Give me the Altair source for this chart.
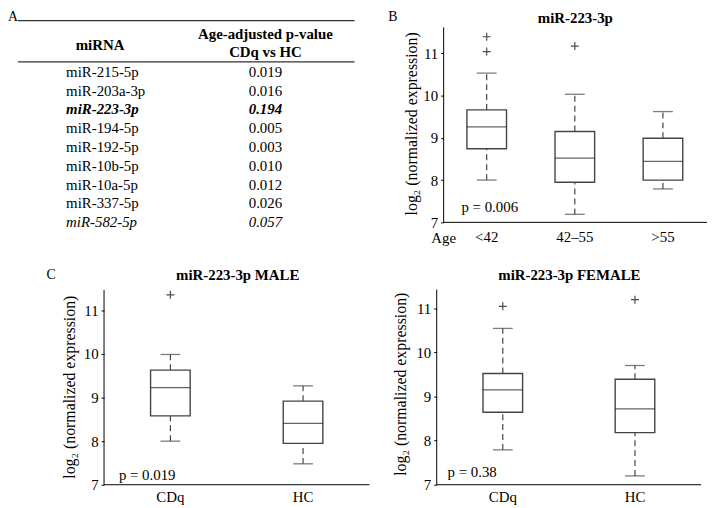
import altair as alt
import pandas as pd

FONT = "Liberation Serif"

# ---------------- Panel A: table ----------------
mirnas = ["miR-215-5p", "miR-203a-3p", "miR-223-3p", "miR-194-5p", "miR-192-5p",
          "miR-10b-5p", "miR-10a-5p", "miR-337-5p", "miR-582-5p"]
pvalues = [0.019, 0.016, 0.194, 0.005, 0.003, 0.010, 0.012, 0.026, 0.057]
bold_italic_rows = ["miR-223-3p"]
italic_rows = ["miR-582-5p"]

# ---------------- Panel B: by age ----------------
age_groups = ["<42", "42–55", ">55"]
b_lower = [8.00, 7.19, 7.79]
b_q1 = [8.74, 7.95, 8.00]
b_median = [9.26, 8.52, 8.44]
b_q3 = [9.66, 9.15, 8.99]
b_upper = [10.53, 10.03, 9.62]
b_out_group = ["<42", "<42", "42–55"]
b_out_value = [11.39, 11.04, 11.17]

# ---------------- Panel C: by sex ----------------
sex_groups = ["CDq", "HC"]
male_lower = [8.00, 7.48]
male_q1 = [8.58, 7.95]
male_median = [9.23, 8.41]
male_q3 = [9.63, 8.92]
male_upper = [9.99, 9.27]
male_out_group = ["CDq"]
male_out_value = [11.36]

female_lower = [7.79, 7.20]
female_q1 = [8.64, 8.18]
female_median = [9.15, 8.72]
female_q3 = [9.52, 9.39]
female_upper = [10.54, 9.70]
female_out_group = ["CDq", "HC"]
female_out_value = [11.04, 11.19]

PLUS = "M-1,0L1,0M0,-1L0,1"
one = pd.DataFrame({"k": [0]})


# ---------------- table chart ----------------
TH = 214
ROW_PX = 19.0
ROW0 = 62.0
tscale = alt.Scale(domain=[-ROW0 / ROW_PX, (TH - ROW0) / ROW_PX], reverse=True,
                   nice=False, zero=False)

tdf = pd.DataFrame({"mirna": mirnas, "p": pvalues, "row": list(range(len(mirnas)))})
tdf["style"] = ["bi" if m in bold_italic_rows else ("i" if m in italic_rows else "n")
                for m in mirnas]

COL_NAME_X = 58.7
COL_P_X = 260
COL_HEAD_X = 93


def rows_layer(style, weight, fstyle):
    base = alt.Chart(tdf).transform_filter(alt.datum.style == style)
    left = base.mark_text(align="left", baseline="middle", font=FONT, fontSize=15,
                          fontWeight=weight, fontStyle=fstyle, color="black").encode(
        x=alt.value(COL_NAME_X),
        y=alt.Y("row:Q", scale=tscale, axis=None),
        text="mirna:N")
    right = base.mark_text(align="center", baseline="middle", font=FONT, fontSize=15,
                           fontWeight=weight, fontStyle=fstyle, color="black").encode(
        x=alt.value(COL_P_X),
        y=alt.Y("row:Q", scale=tscale, axis=None),
        text=alt.Text("p:Q", format=".3f"))
    return [left, right]


def head_text(txt, xpx, rowpos, align="center"):
    return alt.Chart(one).mark_text(text=txt, align=align, baseline="middle", font=FONT,
                                    fontSize=15, fontWeight="bold", color="black").encode(
        x=alt.value(xpx), y=alt.YDatum(rowpos, scale=tscale, axis=None))


def hrule(rowpos):
    return alt.Chart(one).mark_rule(color="#333", strokeWidth=1.2).encode(
        x=alt.value(10), x2=alt.value(350), y=alt.YDatum(rowpos, scale=tscale, axis=None))


letter_a = alt.Chart(one).mark_text(text="A", align="left", baseline="top", font=FONT,
                                    fontSize=14, color="black").encode(
    x=alt.value(0), y=alt.value(0))

table = alt.layer(
    hrule(-2.72), hrule(-0.53),
    head_text("miRNA", COL_HEAD_X, -1.44),
    head_text("Age-adjusted p-value", COL_P_X, -2.02),
    head_text("CDq vs HC", COL_P_X, -1.05),
    *rows_layer("n", "normal", "normal"),
    *rows_layer("bi", "bold", "italic"),
    *rows_layer("i", "normal", "italic"),
    letter_a,
).properties(width=29, height=TH)


# ---------------- box panel helper ----------------
def box_panel(groups, lower, q1, median, q3, upper, out_g, out_v, *, width, height,
              ymax, axis_top, title_text, title_x, title_y, p_text, p_x, p_y,
              ytitle_x, ytitle_y, label_padding, letter, letter_x, letter_y,
              letter_baseline, shift=0, pad_outer=0.0, band_align=0.5,
              xtitle=None, xtitle_x=0, xtitle_y=0):
    df = pd.DataFrame({"g": groups, "lower": lower, "q1": q1, "median": median,
                       "q3": q3, "upper": upper})
    odf = pd.DataFrame({"g": out_g, "v": out_v})
    yscale = alt.Scale(domain=[7, ymax], nice=False, zero=False)
    yaxis = alt.Axis(values=[7, 8, 9, 10, 11], title="log₂ (normalized expression)",
                     domain=False, grid=False, ticks=True, tickSize=3, tickColor="black",
                     labelFont=FONT, labelFontSize=15, labelColor="black", labelPadding=3,
                     titleFont=FONT, titleFontSize=16, titleFontWeight="normal",
                     titleColor="black", titleX=ytitle_x, titleY=ytitle_y, offset=-shift)
    xkw = dict(labelAngle=0, ticks=False, tickSize=0, domain=False,
               labelFont=FONT, labelFontSize=15, labelColor="black",
               labelPadding=label_padding, grid=False)
    if xtitle:
        xkw.update(title=xtitle, titleX=xtitle_x, titleY=xtitle_y, titleAlign="left",
                   titleBaseline="middle", titleFont=FONT, titleFontSize=15,
                   titleFontWeight="normal", titleColor="black")
    else:
        xkw.update(title=None)
    xaxis = alt.Axis(**xkw)
    xscale = alt.Scale(type="band", domain=groups, paddingInner=0,
                       paddingOuter=pad_outer, align=band_align)
    X = alt.X("g:N", scale=xscale, axis=xaxis)

    def Y(f):
        return alt.Y(f, type="quantitative", scale=yscale, axis=yaxis)

    base = alt.Chart(df)
    whisk_lo = base.mark_rule(color="#333", strokeDash=[6, 4], strokeWidth=1.1).encode(
        x=X, y=Y("lower"), y2="q1:Q")
    whisk_hi = base.mark_rule(color="#333", strokeDash=[6, 4], strokeWidth=1.1).encode(
        x=X, y=Y("q3"), y2="upper:Q")
    box = base.mark_bar(size=40, fill="white", stroke="#444", strokeWidth=1.4).encode(
        x=X, y=Y("q1"), y2="q3:Q")
    med = base.mark_tick(size=40, thickness=1.3, color="#222").encode(x=X, y=Y("median"))
    cap_lo = base.mark_tick(size=20, thickness=1.3, color="#444").encode(x=X, y=Y("lower"))
    cap_hi = base.mark_tick(size=20, thickness=1.3, color="#444").encode(x=X, y=Y("upper"))
    outl = alt.Chart(odf).mark_point(shape=PLUS, size=64, filled=False, stroke="black",
                                     strokeWidth=1.2).encode(x=X, y=Y("v"))
    yline = alt.Chart(one).mark_rule(color="black", strokeWidth=1).encode(
        x=alt.value(shift), y=alt.YDatum(7, scale=yscale, axis=yaxis),
        y2=alt.Y2Datum(axis_top))
    xline = alt.Chart(one).mark_rule(color="black", strokeWidth=1).encode(
        x=alt.value(shift), x2=alt.value(width),
        y=alt.YDatum(7, scale=yscale, axis=yaxis))
    ptxt = alt.Chart(one).mark_text(text=p_text, align="left", baseline="middle",
                                    font=FONT, fontSize=15, color="black").encode(
        x=alt.value(p_x), y=alt.YDatum(p_y, scale=yscale, axis=yaxis))
    ttl = alt.Chart(one).mark_text(text=title_text, align="center", baseline="middle",
                                   font=FONT, fontSize=15, fontWeight="bold",
                                   color="black").encode(
        x=alt.value(title_x), y=alt.value(title_y))
    layers = [whisk_lo, whisk_hi, box, med, cap_lo, cap_hi, outl, yline, xline, ptxt, ttl]
    if letter:
        let = alt.Chart(one).mark_text(text=letter, align="left", baseline=letter_baseline,
                                       font=FONT, fontSize=14, color="black").encode(
            x=alt.value(letter_x), y=alt.value(letter_y))
        layers.append(let)
    return alt.layer(*layers).properties(width=width, height=height)


panel_b = box_panel(age_groups, b_lower, b_q1, b_median, b_q3, b_upper,
                    b_out_group, b_out_value,
                    width=273, height=214, ymax=7 + 214 / 42.7, axis_top=11.61,
                    title_text="miR-223-3p", title_x=140, title_y=7.5,
                    p_text="p = 0.006", p_x=25, p_y=7.36,
                    ytitle_x=-24, ytitle_y=114, label_padding=7,
                    letter="B", letter_x=-49, letter_y=0, letter_baseline="top",
                    shift=7, pad_outer=0.0337, band_align=1.0,
                    xtitle="Age", xtitle_x=-6, xtitle_y=15)

panel_male = box_panel(sex_groups, male_lower, male_q1, male_median, male_q3, male_upper,
                       male_out_group, male_out_value,
                       width=268, height=225, ymax=7 + 225 / 44.0, axis_top=11.47,
                       title_text="miR-223-3p MALE", title_x=135, title_y=13,
                       p_text="p = 0.019", p_x=15, p_y=7.23,
                       ytitle_x=-27, ytitle_y=126, label_padding=5,
                       letter="C", letter_x=-58, letter_y=13, letter_baseline="middle")

panel_female = box_panel(sex_groups, female_lower, female_q1, female_median, female_q3,
                         female_upper, female_out_group, female_out_value,
                         width=267, height=225, ymax=7 + 225 / 44.6, axis_top=11.42,
                         title_text="miR-223-3p FEMALE", title_x=134, title_y=13,
                         p_text="p = 0.38", p_x=11, p_y=7.29,
                         ytitle_x=-29, ytitle_y=123, label_padding=5,
                         letter="", letter_x=0, letter_y=0, letter_baseline="middle")


def blank(w, h):
    return alt.Chart(one).mark_text(text="", baseline="top", fontSize=1).encode(
        x=alt.value(0), y=alt.value(0)).properties(width=w, height=h)


chart = alt.concat(
    table, blank(1, 1), panel_b,
    blank(29, 225), panel_male, panel_female,
    columns=3,
    spacing={"row": 40, "column": 68},
    bounds="flush",
    align="each",
).properties(padding=0, background="white").configure_view(stroke=None)

chart.save("out.html", embed_options={"renderer": "svg", "actions": False})
